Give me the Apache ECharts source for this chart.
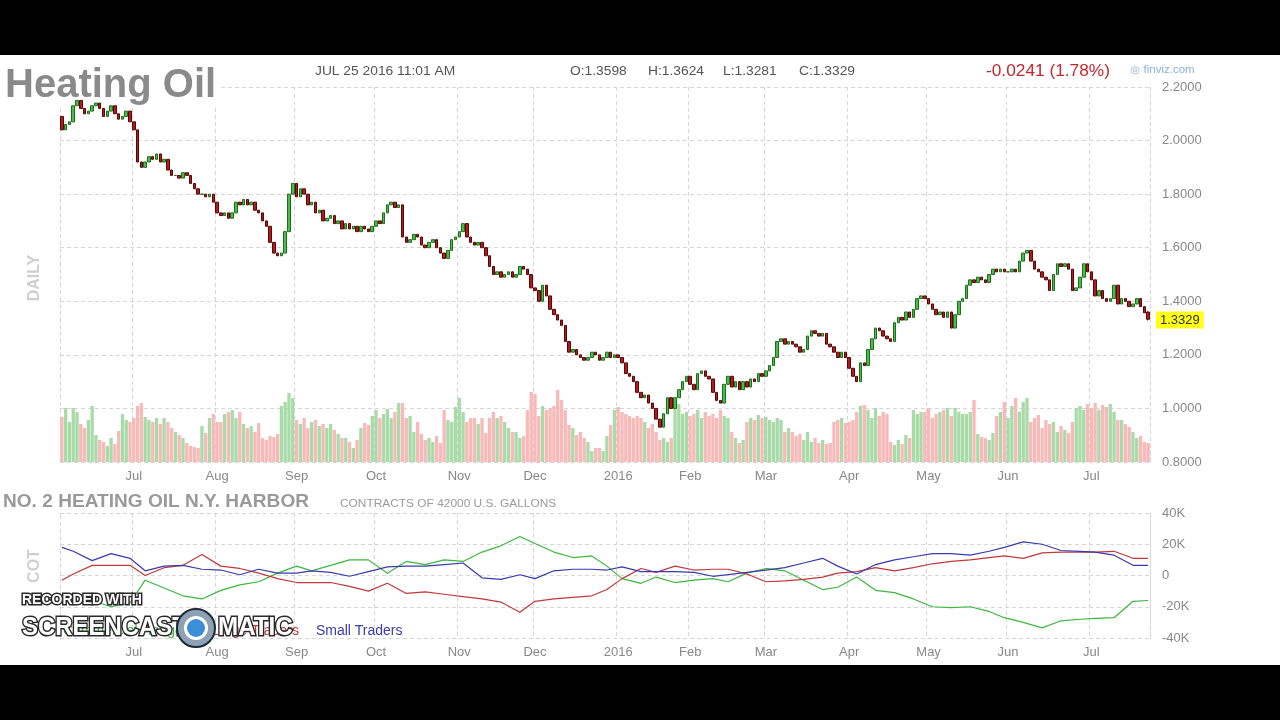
<!DOCTYPE html>
<html>
<head>
<meta charset="utf-8">
<title>Heating Oil</title>
<script src="https://cdn.jsdelivr.net/npm/echarts@6/dist/echarts.min.js"></script>
<style>
  html, body { margin: 0; padding: 0; background: #000; }
  #chart { position: absolute; left: 0; top: 55px; width: 1280px; height: 610px; background: #fff; }
</style>
</head>
<body>
<div id="chart"></div>
<script>
var FONT = 'Arial, "Liberation Sans", sans-serif';

// trading calendar
var firstDay = '2015-06-04';
var lastDay = '2016-07-25';
var holidays = ['2015-07-03', '2015-09-07', '2015-11-26', '2015-12-25', '2016-01-01',
  '2016-01-18', '2016-02-15', '2016-03-25', '2016-05-30', '2016-07-04'];
var monthNames = ['Jan', 'Feb', 'Mar', 'Apr', 'May', 'Jun', 'Jul', 'Aug', 'Sep', 'Oct', 'Nov', 'Dec'];

// daily closes, one line per month (Jun 2015 .. Jul 2016)
var firstOpen = 2.09;
var closes = [
  2.04, 2.06, 2.07, 2.13, 2.15, 2.12, 2.10, 2.11, 2.13, 2.14, 2.12, 2.09, 2.11, 2.13, 2.10, 2.08, 2.09, 2.11, 2.07,
  2.04, 1.92, 1.90, 1.92, 1.94, 1.93, 1.95, 1.92, 1.93, 1.89, 1.87, 1.87, 1.86, 1.88, 1.87, 1.84, 1.82, 1.80, 1.80, 1.79, 1.80, 1.77,
  1.73, 1.72, 1.73, 1.71, 1.73, 1.77, 1.76, 1.78, 1.76, 1.77, 1.74, 1.73, 1.70, 1.68, 1.62, 1.58, 1.57, 1.58, 1.66, 1.80, 1.84,
  1.79, 1.82, 1.80, 1.76, 1.77, 1.73, 1.74, 1.70, 1.71, 1.72, 1.69, 1.70, 1.67, 1.69, 1.67, 1.68, 1.66, 1.68, 1.67, 1.66, 1.68,
  1.70, 1.69, 1.73, 1.76, 1.77, 1.75, 1.76, 1.64, 1.62, 1.63, 1.65, 1.64, 1.61, 1.60, 1.62, 1.63, 1.60, 1.58, 1.56, 1.59, 1.63, 1.64,
  1.66, 1.69, 1.64, 1.62, 1.61, 1.62, 1.60, 1.57, 1.53, 1.50, 1.51, 1.49, 1.50, 1.51, 1.49, 1.50, 1.53, 1.52, 1.50, 1.45,
  1.44, 1.40, 1.46, 1.42, 1.37, 1.35, 1.33, 1.31, 1.25, 1.21, 1.22, 1.20, 1.19, 1.18, 1.19, 1.21, 1.20, 1.18, 1.19, 1.21, 1.19, 1.20,
  1.19, 1.17, 1.13, 1.12, 1.10, 1.06, 1.04, 1.05, 1.02, 1.00, 0.96, 0.93, 0.98, 1.04, 1.00, 1.04, 1.07, 1.10, 1.12,
  1.09, 1.07, 1.13, 1.14, 1.12, 1.11, 1.06, 1.03, 1.02, 1.09, 1.12, 1.08, 1.10, 1.07, 1.10, 1.08, 1.11, 1.10, 1.13, 1.12,
  1.14, 1.16, 1.19, 1.25, 1.26, 1.24, 1.25, 1.24, 1.23, 1.21, 1.22, 1.27, 1.29, 1.28, 1.27, 1.28, 1.24, 1.23, 1.21, 1.19, 1.21, 1.19,
  1.15, 1.12, 1.10, 1.17, 1.16, 1.22, 1.26, 1.30, 1.29, 1.27, 1.26, 1.25, 1.32, 1.34, 1.33, 1.36, 1.34, 1.37, 1.41, 1.42, 1.41,
  1.39, 1.37, 1.35, 1.36, 1.34, 1.36, 1.30, 1.35, 1.40, 1.41, 1.46, 1.48, 1.47, 1.49, 1.48, 1.47, 1.50, 1.52, 1.51, 1.52, 1.51,
  1.51, 1.52, 1.51, 1.55, 1.58, 1.59, 1.55, 1.52, 1.51, 1.49, 1.48, 1.44, 1.50, 1.54, 1.53, 1.54, 1.52, 1.44, 1.45, 1.49, 1.54, 1.51,
  1.48, 1.42, 1.44, 1.41, 1.40, 1.41, 1.46, 1.39, 1.41, 1.40, 1.38, 1.39, 1.41, 1.38, 1.357, 1.3329
];
var lastQuote = { open: 1.3598, high: 1.3624, low: 1.3281, close: 1.3329 };

// daily volume (relative units), one line per month
var volumes = [
  45, 54, 40, 54, 50, 38, 34, 42, 56, 27, 22, 20, 16, 24, 18, 31, 48, 42, 40,
  44, 56, 59, 45, 42, 40, 44, 38, 44, 40, 34, 30, 27, 24, 19, 16, 15, 14, 36, 29, 44, 48,
  40, 40, 48, 50, 52, 44, 50, 38, 34, 36, 30, 39, 24, 22, 26, 25, 28, 56, 60, 69, 64,
  42, 38, 44, 34, 40, 42, 36, 38, 34, 38, 32, 28, 24, 24, 20, 14, 22, 34, 39, 37, 46,
  52, 44, 48, 53, 44, 50, 59, 59, 44, 46, 30, 40, 28, 22, 24, 20, 26, 19, 52, 42, 40, 55,
  64, 50, 40, 44, 44, 38, 44, 29, 44, 50, 44, 46, 40, 34, 30, 30, 24, 26, 52, 70,
  68, 46, 56, 52, 54, 56, 72, 62, 52, 37, 34, 27, 30, 24, 20, 11, 14, 14, 11, 26, 37, 52,
  55, 50, 48, 46, 44, 46, 44, 40, 34, 38, 30, 22, 24, 20, 24, 55, 58, 48, 50,
  46, 48, 52, 44, 50, 46, 48, 44, 52, 46, 44, 30, 24, 19, 22, 40, 44, 42, 47, 44,
  45, 42, 40, 44, 42, 30, 34, 30, 26, 28, 22, 30, 20, 24, 19, 22, 18, 19, 40, 42, 44, 39,
  40, 42, 50, 56, 57, 52, 44, 54, 46, 50, 48, 20, 17, 22, 18, 27, 24, 52, 48, 50, 50,
  54, 44, 48, 50, 52, 54, 46, 54, 50, 48, 48, 50, 62, 28, 25, 24, 22, 29, 46, 50, 60,
  44, 56, 64, 50, 60, 64, 40, 44, 47, 34, 42, 38, 40, 30, 36, 32, 29, 40, 54, 56, 52, 58,
  54, 59, 52, 57, 55, 58, 50, 42, 42, 38, 35, 30, 24, 26, 20, 19
];

// COT net positions (thousand contracts)
var cotDates = ['2015-06-04', '2015-06-09', '2015-06-16', '2015-06-23', '2015-06-30',
  '2015-07-07', '2015-07-14', '2015-07-21', '2015-07-28', '2015-08-04', '2015-08-11', '2015-08-18', '2015-08-25',
  '2015-09-01', '2015-09-08', '2015-09-15', '2015-09-22', '2015-09-29', '2015-10-06', '2015-10-13', '2015-10-20', '2015-10-27',
  '2015-11-03', '2015-11-10', '2015-11-17', '2015-11-24', '2015-12-01', '2015-12-08', '2015-12-15', '2015-12-22', '2015-12-29',
  '2016-01-05', '2016-01-12', '2016-01-19', '2016-01-26', '2016-02-02', '2016-02-09', '2016-02-16', '2016-02-23',
  '2016-03-01', '2016-03-08', '2016-03-15', '2016-03-22', '2016-03-29', '2016-04-05', '2016-04-12', '2016-04-19', '2016-04-26',
  '2016-05-03', '2016-05-10', '2016-05-17', '2016-05-24', '2016-05-31', '2016-06-07', '2016-06-14', '2016-06-21', '2016-06-28',
  '2016-07-05', '2016-07-12', '2016-07-19', '2016-07-25'];
var commercials = [-15, -16.5, -16, -20, -17.5, -3, -8, -13, -15, -9.5, -6, -4, 1.5,
  6, 3, 6.5, 10, 10, 1.5, 9, 7, 10, 9, 15, 19, 25, 20.5, 15, 11.5, 12.5, 6,
  -2, -5, -1, -4.5, -3, -2, -4, 1.5, 4.5, 3, -3, -9, -7.5, -1, -9.5, -11, -15,
  -20, -20.5, -20, -23, -27, -30, -33.5, -29, -28, -27.5, -27, -16.5, -16];
var largeTraders = [-3, 1, 6.5, 6.5, 6.5, 0, 5, 6.5, 13.5, 6, 4.5, 1.5, -2,
  -4.5, -4.5, -4.5, -7, -10, -5, -11.5, -10.5, -12, -13.5, -15, -17, -23.5, -16.5, -15, -14, -13, -9,
  -2, 4.5, 2, 6, 3.5, 4, 4, 1, -4, -3.5, -2.5, -1, 1.5, 2.5, 5, 3, 5,
  7.5, 9, 10, 11.5, 12.5, 11, 14.5, 15, 15, 15, 15.5, 11, 11];
var smallTraders = [18, 15.5, 9.5, 14, 11, 3, 6, 6.5, 4, 3.5, 0.5, 4, 1.5,
  1.5, 3, 2, -0.5, 2.5, 5.5, 6, 6, 7, 8, -1.5, -2.5, 0.5, -2, 3, 4, 4, 3.5,
  5.5, 2.5, 2.5, 2.5, 2, -0.5, 0.5, 2, 3.5, 5, 8, 11, 6, 1, 7, 10, 12,
  14, 14, 13, 15.5, 18, 21.5, 20, 16, 15.5, 15, 13, 6.5, 6.5];

function tradingDays(from, to) {
  var out = [];
  var d = new Date(from + 'T00:00:00Z');
  var end = new Date(to + 'T00:00:00Z');
  while (d <= end) {
    var s = d.toISOString().slice(0, 10);
    var wd = d.getUTCDay();
    if (wd != 0 && wd != 6 && holidays.indexOf(s) < 0) out.push(s);
    d.setUTCDate(d.getUTCDate() + 1);
  }
  return out;
}
var days = tradingDays(firstDay, lastDay);

function isMonthStart(i) {
  return i > 0 && days[i].slice(5, 7) != days[i - 1].slice(5, 7);
}
function monthLabel(s) {
  var m = +s.slice(5, 7);
  return m == 1 ? s.slice(0, 4) : monthNames[m - 1];
}

var candles = closes.map(function (c, i) {
  var o = i == 0 ? firstOpen : closes[i - 1];
  if (i == closes.length - 1) return [lastQuote.open, lastQuote.close, lastQuote.low, lastQuote.high];
  return [o, c, Math.min(o, c), Math.max(o, c)];
});
var volData = volumes.map(function (v, i) {
  var up = candles[i][1] >= candles[i][0];
  return { value: v, itemStyle: { color: up ? '#a9dba9' : '#f8b9b9' } };
});
function cotSeries(vals) {
  return cotDates.map(function (d, i) { return [d, vals[i]]; });
}

var dashed = { color: '#d6d6d6', type: [4, 3], width: 1 };
function dateAxis(grid) {
  return {
    type: 'category', gridIndex: grid, data: days, boundaryGap: true,
    axisLine: { show: false }, axisTick: { show: false },
    axisLabel: {
      interval: function (i) { return isMonthStart(i); },
      formatter: monthLabel, color: '#888', fontSize: 13, fontFamily: FONT, margin: 8
    },
    splitLine: { show: true, interval: function (i) { return isMonthStart(i); }, lineStyle: dashed }
  };
}
function borderAxis(grid, min, max) {
  return {
    type: 'value', gridIndex: grid, position: 'left', min: min, max: max,
    axisLine: { show: true, lineStyle: dashed }, axisTick: { show: false },
    axisLabel: { show: false }, splitLine: { show: false }
  };
}
function headText(x, y, text, font, color, scale) {
  return {
    type: 'text', x: x, y: y, scaleX: scale || 1.15, z: 10,
    style: { text: text, fill: color, font: font + ' ' + FONT, textVerticalAlign: 'middle' }
  };
}
function markText(x, y, text, font, scale) {
  return {
    type: 'text', x: x, y: y, scaleX: scale, z: 100,
    style: { text: text, font: font, fill: '#ffffff', stroke: '#2a2a2a', lineWidth: 3,
      strokeFirst: true, textVerticalAlign: 'middle' }
  };
}

var chart = echarts.init(document.getElementById('chart'));
chart.setOption({
  animation: false,
  backgroundColor: '#fff',
  title: {
    text: 'Heating Oil', left: 3, top: 11, z: 1, padding: [0, 2],
    backgroundColor: '#fff',
    textStyle: { fontSize: 40, fontWeight: 'bold', color: '#8a8a8a', fontFamily: FONT, lineHeight: 40 }
  },
  legend: {
    left: 53, top: 564, icon: 'none', itemWidth: 0, itemHeight: 0, itemGap: 12, selectedMode: false,
    textStyle: { fontSize: 14, fontFamily: FONT },
    data: [
      { name: 'Commercial Hedgers', textStyle: { color: '#3cb83c' } },
      { name: 'Large Traders', textStyle: { color: '#c0393b' } },
      { name: 'Small Traders', textStyle: { color: '#3a3aad' } }
    ]
  },
  grid: [
    { left: 60, right: 130, top: 32, height: 375 },
    { left: 60, right: 130, top: 458, height: 125 }
  ],
  xAxis: [dateAxis(0), dateAxis(1)],
  yAxis: [
    {
      type: 'value', gridIndex: 0, position: 'right', min: 0.8, max: 2.2, interval: 0.2,
      axisLine: { show: true, lineStyle: dashed }, axisTick: { show: false },
      axisLabel: { color: '#888', fontSize: 13, fontFamily: FONT, margin: 12,
        formatter: function (v) { return v.toFixed(4); } },
      splitLine: { lineStyle: dashed }
    },
    { type: 'value', gridIndex: 0, min: 0, max: 375, show: false },
    borderAxis(0, 0.8, 2.2),
    {
      type: 'value', gridIndex: 1, position: 'right', min: -40, max: 40, interval: 20,
      axisLine: { show: true, lineStyle: dashed }, axisTick: { show: false },
      axisLabel: { color: '#888', fontSize: 13, fontFamily: FONT, margin: 12,
        formatter: function (v) { return v == 0 ? '0' : v + 'K'; } },
      splitLine: { lineStyle: dashed }
    },
    borderAxis(1, -40, 40)
  ],
  series: [
    {
      type: 'bar', name: 'Volume', xAxisIndex: 0, yAxisIndex: 1, data: volData,
      barCategoryGap: '12%', silent: true
    },
    {
      type: 'candlestick', name: 'Heating Oil', xAxisIndex: 0, yAxisIndex: 0, data: candles,
      barWidth: 3,
      itemStyle: { color: '#45c045', color0: '#b01c1c', borderColor: '#1f6e1f', borderColor0: '#5c0505', borderWidth: 1 },
      markLine: {
        silent: true, symbol: ['none', 'none'],
        lineStyle: { color: 'rgba(0,0,0,0)', width: 0 },
        label: {
          show: true, position: 'end', distance: 6, formatter: lastQuote.close.toFixed(4),
          backgroundColor: '#ffff1a', color: '#333', fontSize: 13, fontFamily: FONT, padding: [2, 4]
        },
        data: [{ yAxis: lastQuote.close }]
      }
    },
    {
      type: 'line', name: 'Commercial Hedgers', xAxisIndex: 1, yAxisIndex: 3, data: cotSeries(commercials),
      showSymbol: false, lineStyle: { width: 1.2, color: '#3cb83c' }, itemStyle: { color: '#3cb83c' }
    },
    {
      type: 'line', name: 'Large Traders', xAxisIndex: 1, yAxisIndex: 3, data: cotSeries(largeTraders),
      showSymbol: false, lineStyle: { width: 1.2, color: '#c0393b' }, itemStyle: { color: '#c0393b' }
    },
    {
      type: 'line', name: 'Small Traders', xAxisIndex: 1, yAxisIndex: 3, data: cotSeries(smallTraders),
      showSymbol: false, lineStyle: { width: 1.2, color: '#3a3aad' }, itemStyle: { color: '#3a3aad' }
    }
  ],
  graphic: [
    headText(315, 17, 'JUL 25 2016 11:01 AM', '12px', '#555'),
    headText(570, 17, 'O:' + lastQuote.open.toFixed(4), '12px', '#555'),
    headText(648, 17, 'H:' + lastQuote.high.toFixed(4), '12px', '#555'),
    headText(723, 17, 'L:' + lastQuote.low.toFixed(4), '12px', '#555'),
    headText(799, 17, 'C:' + lastQuote.close.toFixed(4), '12px', '#555'),
    headText(986, 17, '-0.0241 (1.78%)', '16px', '#c3282f', 1.08),
    headText(1130, 15, '\u25CE finviz.com', '10px', '#8ab2d4'),
    headText(3, 447, 'NO. 2 HEATING OIL N.Y. HARBOR', 'bold 18px', '#9a9a9a', 1.06),
    headText(340, 449, 'CONTRACTS OF 42000 U.S. GALLONS', '10px', '#9a9a9a', 1.19),
    {
      type: 'text', x: 35, y: 223, rotation: Math.PI / 2, z: 10,
      style: { text: 'DAILY', fill: '#cfcfcf', font: 'bold 16px ' + FONT, textAlign: 'center', textVerticalAlign: 'middle' }
    },
    {
      type: 'text', x: 35, y: 511, rotation: Math.PI / 2, z: 10,
      style: { text: 'COT', fill: '#cfcfcf', font: 'bold 16px ' + FONT, textAlign: 'center', textVerticalAlign: 'middle' }
    },
    // screen recorder watermark
    markText(22, 545, 'RECORDED WITH', 'bold 14px ' + FONT, 1),
    markText(22, 573, 'SCREENCAST', 'bold 26px ' + FONT, 0.92),
    markText(218, 573, 'MATIC', 'bold 26px ' + FONT, 0.93),
    { type: 'circle', x: 196, y: 573, z: 100, shape: { r: 19 }, style: { fill: '#8ea2b4', stroke: '#1d2b38', lineWidth: 2 } },
    { type: 'circle', x: 196, y: 573, z: 101, shape: { r: 12 }, style: { fill: '#ffffff' } },
    { type: 'circle', x: 196, y: 573, z: 102, shape: { r: 9 }, style: { fill: '#3b8fd8' } }
  ]
});
</script>
</body>
</html>
